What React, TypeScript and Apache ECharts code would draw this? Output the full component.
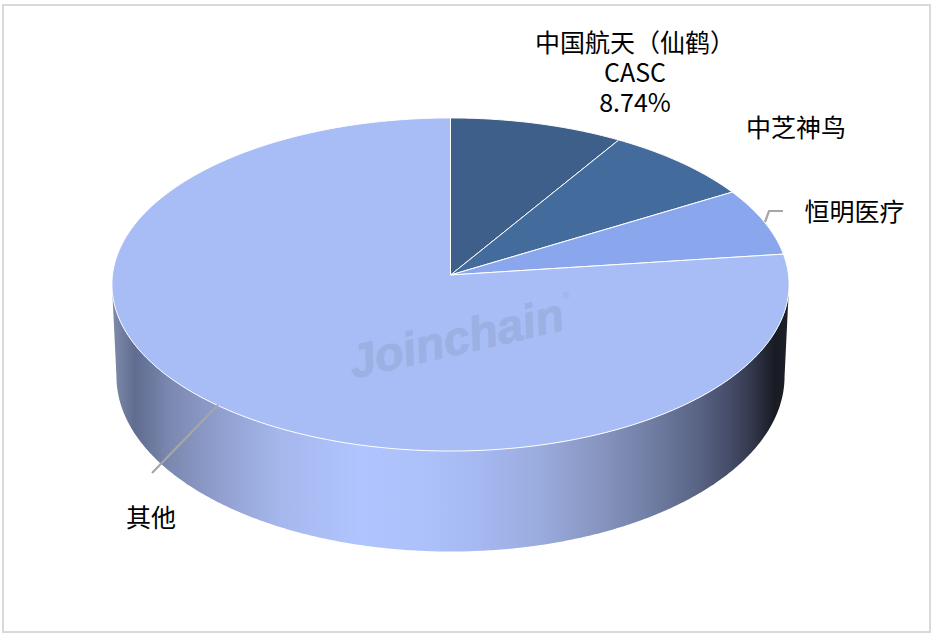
import React, { useEffect, useRef } from "react";
import * as echarts from "echarts";

const sliceNames = ["中国航天（仙鹤）", "中芝神鸟", "恒明医疗", "其他"];
const sliceValues = [8.74, 7.67, 6.57, 77.02];
const sliceColors = ["#3d5f8a", "#436b9b", "#8aa7ed", "#a8bdf6"];
const firstLabelExtras = ["CASC", "8.74%"];

// Layout of the tilted disc
const CX = 450.5, CY = 275, RX = 338, RY = 166, PERSP = 0.057;
const TOP_MID_Y = 284.5, TOP_RX = 338.5, TOP_RY = 166.5;
const BOT_MID_Y = 376.5, BOT_RX = 334, BOT_RY = 175;
const FRONT_FROM = 93.3, FRONT_TO = 266.7;

const labelPos = [
  { x: 635, y: 71 },
  { x: 796, y: 126 },
  { x: 854.5, y: 210 },
  { x: 151, y: 516 },
];
const leaderLines = [
  null,
  null,
  [[765, 222], [769, 211], [783, 211]],
  [[218, 405], [152, 473]],
];

const wallStops: [number, string][] = [
  [114, "#7d89a8"], [135, "#606d90"], [170, "#7b88b0"], [220, "#909fce"],
  [280, "#a5b7ec"], [360, "#b0c4ff"], [430, "#acc0f9"], [480, "#a5b8f0"],
  [540, "#9aabde"], [600, "#8795c0"], [650, "#717ea4"], [700, "#586283"],
  [730, "#454c68"], [750, "#353a4f"], [775, "#181b23"], [789, "#1e2128"],
];

const total = sliceValues.reduce((a, b) => a + b, 0);

function rimPoint(deg: number): number[] {
  const t = (deg * Math.PI) / 180;
  const u = Math.sin(t), v = Math.cos(t);
  const w = 1 + PERSP * v;
  return [CX + (RX * u) / w, CY - (RY * v) / w];
}
function basePoint(p: number[]): number[] {
  return [
    CX + ((p[0] - CX) * BOT_RX) / TOP_RX,
    BOT_MID_Y + ((p[1] - TOP_MID_Y) * BOT_RY) / TOP_RY,
  ];
}
function arcPoints(a: number, b: number): number[][] {
  const n = Math.max(2, Math.ceil(Math.abs(b - a) * 2));
  const pts: number[][] = [];
  for (let i = 0; i <= n; i++) pts.push(rimPoint(a + ((b - a) * i) / n));
  return pts;
}

const wallFill = new echarts.graphic.LinearGradient(
  0, 0, 1, 0,
  wallStops.map(([x, color]) => ({ offset: (x - 112) / 677, color })),
);

export default function App() {
  const ref = useRef<HTMLDivElement>(null);
  useEffect(() => {
    const chart = echarts.init(ref.current!, null, { renderer: "svg" });
    const font = '"Noto Sans CJK SC", "Noto Sans", sans-serif';
    chart.setOption({
      animation: false,
      backgroundColor: "#ffffff",
      series: [
        {
          type: "custom",
          coordinateSystem: "none",
          silent: true,
          data: sliceValues.map((value, i) => ({ value, name: sliceNames[i] })),
          renderItem(params: any, api: any) {
            const i = params.dataIndex;
            let before = 0;
            for (let k = 0; k < i; k++) before += sliceValues[k];
            const start = (before / total) * 360;
            const end = start + (api.value(0) / total) * 360;
            const children: any[] = [];
            const a = Math.max(start, FRONT_FROM), b = Math.min(end, FRONT_TO);
            if (b > a) {
              const top = arcPoints(a, b);
              const base = top.map(basePoint).reverse();
              children.push({
                type: "polygon",
                shape: { points: top.concat(base) },
                style: { fill: wallFill },
              });
            }
            children.push({
              type: "polygon",
              shape: { points: [[CX, CY], ...arcPoints(start, end)] },
              style: { fill: sliceColors[i], stroke: "#ffffff", lineWidth: 1, lineJoin: "round" },
            });
            const leader = leaderLines[i];
            if (leader) {
              children.push({
                type: "polyline",
                shape: { points: leader },
                style: { fill: "none", stroke: "#a6a6a6", lineWidth: 2.2 },
              });
            }
            const name = sliceNames[i] + (i === 0 ? "\n" + firstLabelExtras.join("\n") : "");
            children.push({
              type: "text",
              style: {
                text: name,
                x: labelPos[i].x,
                y: labelPos[i].y,
                fill: "#000000",
                fontFamily: font,
                fontSize: 25,
                lineHeight: 30,
                align: "center",
                verticalAlign: "middle",
              },
            });
            return { type: "group", children };
          },
        },
      ],
      graphic: [
        {
          type: "rect",
          silent: true,
          z: 0,
          shape: { x: 3, y: 5, width: 927, height: 627 },
          style: { fill: "none", stroke: "#d9d9d9", lineWidth: 2 },
        },
        {
          type: "text",
          silent: true,
          z: 10,
          x: 456,
          y: 338,
          rotation: (13 * Math.PI) / 180,
          style: {
            text: "Joinchain",
            x: 0,
            y: 0,
            align: "center",
            verticalAlign: "middle",
            fill: "#9cb0e3",
            stroke: "#9cb0e3",
            lineWidth: 0.8,
            fontFamily: '"Liberation Sans"',
            fontWeight: "bold",
            fontStyle: "italic",
            fontSize: 47,
          },
        },
        {
          type: "text",
          silent: true,
          z: 10,
          x: 566,
          y: 296,
          style: {
            text: "®",
            x: 0,
            y: 0,
            align: "center",
            verticalAlign: "middle",
            fill: "#9cb0e3",
            fontFamily: '"DejaVu Sans"',
            fontSize: 9,
          },
        },
      ],
    });
    return () => chart.dispose();
  }, []);
  return (
    <div
      ref={ref}
      style={{ position: "absolute", left: 0, top: 0, width: 933, height: 633 }}
    />
  );
}
